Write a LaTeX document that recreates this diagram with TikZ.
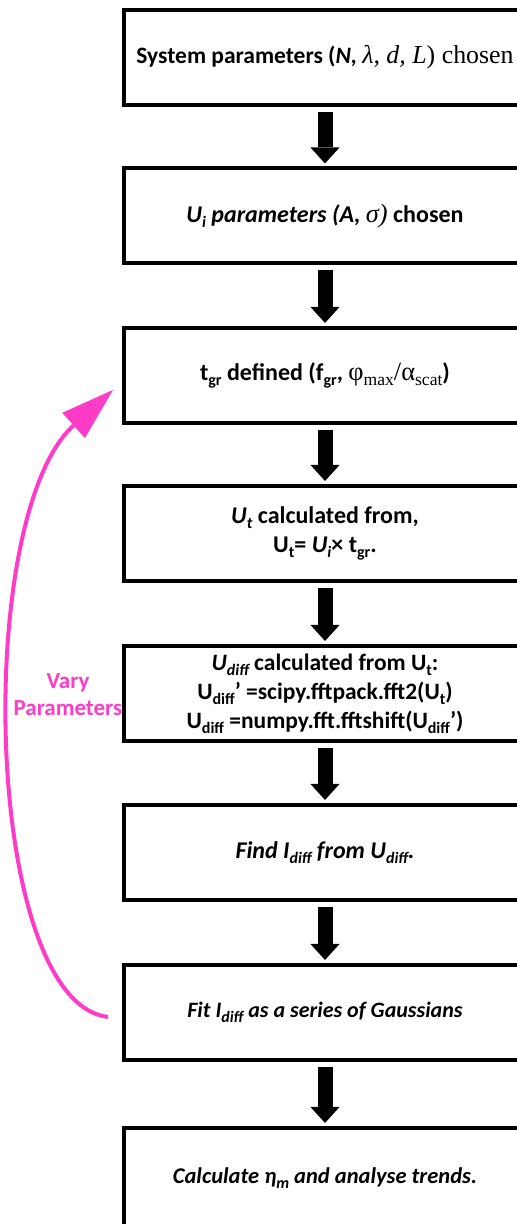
\documentclass[tikz,border=0pt]{standalone}
\usepackage{fontspec}
\setmainfont{Carlito}
\newfontfamily\cmb[Scale=1.1]{Liberation Serif}
\usetikzlibrary{arrows.meta}
\definecolor{varypink}{RGB}{255,60,200}
% lowered small index, as in U_diff
\newcommand{\lo}[1]{\raisebox{-0.45ex}{\fontsize{16bp}{16bp}\selectfont #1}}
\tikzset{
  flowbox/.style={draw=black,line width=4bp,minimum width=402bp,minimum height=95bp,
    inner sep=0pt,align=center,font=\fontsize{24bp}{29bp}\selectfont\bfseries},
  flowarrow/.style={black,line width=15bp,
    -{Triangle[width=29bp,length=16bp,line width=0pt]},shorten <=5bp,shorten >=3bp},
}
\begin{document}
\begin{tikzpicture}[>=latex,line join=miter,]
\clip (0bp,0bp) rectangle (517bp,1224bp);
%%
\node (node_0) at (325bp,1166.5bp) [flowbox,font=\fontsize{23.5bp}{29bp}\selectfont\bfseries] {System parameters ({\itshape N,} {\cmb\mdseries\itshape λ, d, L}{\cmb\mdseries ) chosen}};
  \node (node_1) at (325bp,1008bp) [flowbox] {{\itshape U\lo{i} parameters (A, }{\cmb\mdseries\itshape σ)} chosen};
  \node (node_2) at (325bp,848.5bp) [flowbox] {t\lo{gr} defined (f\lo{gr}, {\cmb\mdseries φ\lo{max}/α\lo{scat}})};
  \node (node_3) at (325bp,690.5bp) [flowbox] {{\itshape U\lo{t}} calculated from,\\U\lo{t}= {\itshape U\lo{i}}× t\lo{gr}.};
  \node (node_4) at (325bp,530.5bp) [flowbox,font=\fontsize{23.5bp}{29bp}\selectfont\bfseries] {{\itshape U\lo{diff}} calculated from U\lo{t}:\\U\lo{diff}’ =scipy.fftpack.fft2(U\lo{t})\\U\lo{diff} =numpy.fft.fftshift(U\lo{diff}’)};
  \node (node_5) at (325bp,371.5bp) [flowbox] {\itshape Find I\lo{diff} from U\lo{diff}.};
  \node (node_6) at (325bp,211.5bp) [flowbox,font=\fontsize{22bp}{28bp}\selectfont\bfseries] {\itshape Fit I\lo{diff} as a series of Gaussians};
  \node (node_7) at (325bp,46bp) [flowbox,minimum height=100bp,font=\fontsize{22.5bp}{28bp}\selectfont\bfseries] {\itshape Calculate η\lo{m} and analyse trends.};
%
  \draw [flowarrow] (node_0) -- (node_1);
  \draw [flowarrow] (node_1) -- (node_2);
  \draw [flowarrow] (node_2) -- (node_3);
  \draw [flowarrow] (node_3) -- (node_4);
  \draw [flowarrow] (node_4) -- (node_5);
  \draw [flowarrow] (node_5) -- (node_6);
  \draw [flowarrow] (node_6) -- (node_7);
%% feedback loop
\coordinate (loop_start) at (108bp,207bp);
  \coordinate (loop_end) at (113bp,834bp);
  \draw [varypink,line width=4bp,-{Triangle[width=34bp,length=53bp,line width=0pt]}] (loop_start) ..controls (-17bp,222bp) and (-27bp,708bp) .. (loop_end);
  \node (node_vary) at (68bp,529bp) [text=varypink,align=center,inner sep=0pt,font=\fontsize{23bp}{27bp}\selectfont\bfseries] {Vary\\Parameters};
%
\end{tikzpicture}
\end{document}
